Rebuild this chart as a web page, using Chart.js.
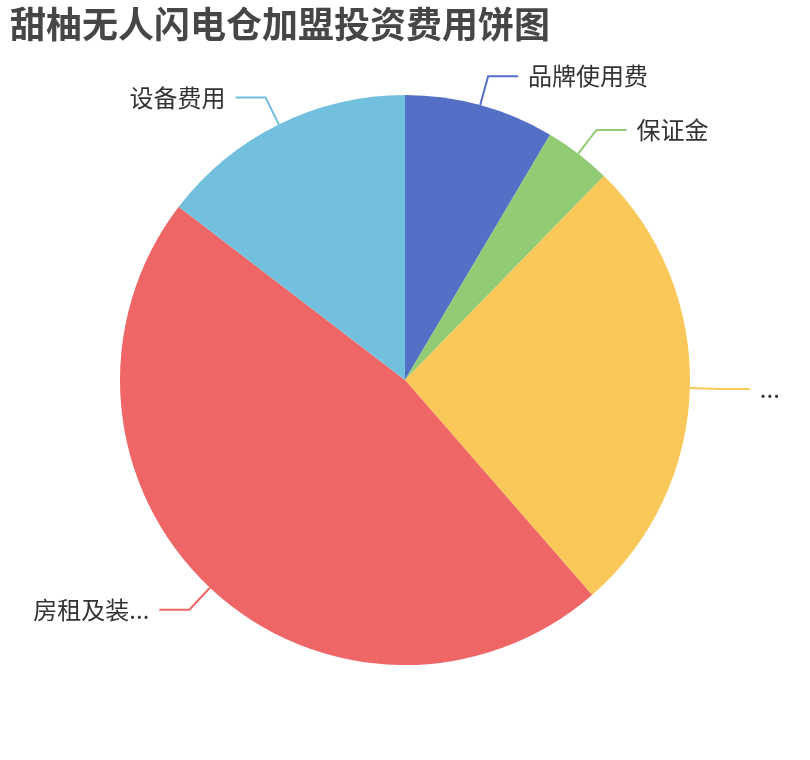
<!DOCTYPE html>
<html lang="zh">
<head>
<meta charset="utf-8">
<title>甜柚无人闪电仓加盟投资费用饼图</title>
<script src="https://cdn.jsdelivr.net/npm/chart.js@4/dist/chart.umd.min.js"></script>
<style>
  html, body { margin: 0; padding: 0; background: #fff; }
  #wrap { width: 810px; height: 760px; }
</style>
</head>
<body>
<div id="wrap"><canvas id="pieChart" width="810" height="760"></canvas></div>
<script>
/* ===== Data ===== */
const categories = ['品牌使用费', '保证金', '首批货品费用', '房租及装修费用', '设备费用'];
const values     = [8.5, 3.8, 26.3, 46.8, 14.6];
const colors     = ['#5470c6', '#91cc75', '#fac858', '#ee6666', '#73c0de'];

const FONT = '"Noto Sans CJK SC", "Noto Sans", sans-serif';

// Cut a label with "..." so it fits into maxW
function fitText(ctx, text, maxW) {
  if (ctx.measureText(text).width <= maxW) return text;
  let s = text;
  while (s.length && ctx.measureText(s + '...').width > maxW) s = s.slice(0, -1);
  return s + '...';
}

/* ===== Outside labels with leader lines ===== */
const outerLabels = {
  id: 'outerLabels',
  afterDatasetsDraw(chart) {
    const ctx = chart.ctx;
    const meta = chart.getDatasetMeta(0);
    const len1 = 30, len2 = 30, gap = 10, edge = 20;
    ctx.save();
    ctx.font = '24px ' + FONT;
    ctx.textBaseline = 'middle';
    meta.data.forEach((arc, i) => {
      const p = arc.getProps(['x', 'y', 'startAngle', 'endAngle', 'outerRadius'], true);
      const mid = (p.startAngle + p.endAngle) / 2;
      const cx = Math.cos(mid), cy = Math.sin(mid);
      const x0 = p.x + p.outerRadius * cx, y0 = p.y + p.outerRadius * cy;
      const x1 = x0 + len1 * cx, y1 = y0 + len1 * cy;
      const right = cx >= 0;
      const x2 = x1 + (right ? len2 : -len2);

      ctx.strokeStyle = colors[i];
      ctx.lineWidth = 2;
      ctx.beginPath();
      ctx.moveTo(x0, y0);
      ctx.lineTo(x1, y1);
      ctx.lineTo(x2, y1);
      ctx.stroke();

      const tx = right ? x2 + gap : x2 - gap;
      const maxW = right ? chart.width - tx - edge : tx - edge;
      ctx.fillStyle = '#333';
      ctx.textAlign = right ? 'left' : 'right';
      ctx.fillText(fitText(ctx, categories[i], maxW), tx, y1);
    });
    ctx.restore();
  }
};

/* ===== Pie chart ===== */
new Chart(document.getElementById('pieChart'), {
  type: 'pie',
  data: {
    labels: categories,
    datasets: [{
      data: values,
      backgroundColor: colors,
      borderWidth: 0,
      hoverOffset: 0,
    }],
  },
  options: {
    responsive: false,
    animation: false,
    radius: 285,
    layout: { padding: { left: 10, right: 10, top: 0, bottom: 95 } },
    plugins: {
      legend: { display: false },
      tooltip: { enabled: false },
      title: {
        display: true,
        text: '甜柚无人闪电仓加盟投资费用饼图',
        align: 'start',
        color: '#464646',
        font: { family: FONT, size: 36, weight: 'bold', lineHeight: 1.2 },
        padding: { top: 3, bottom: 48.8 },
      },
    },
  },
  plugins: [outerLabels],
});
</script>
</body>
</html>
